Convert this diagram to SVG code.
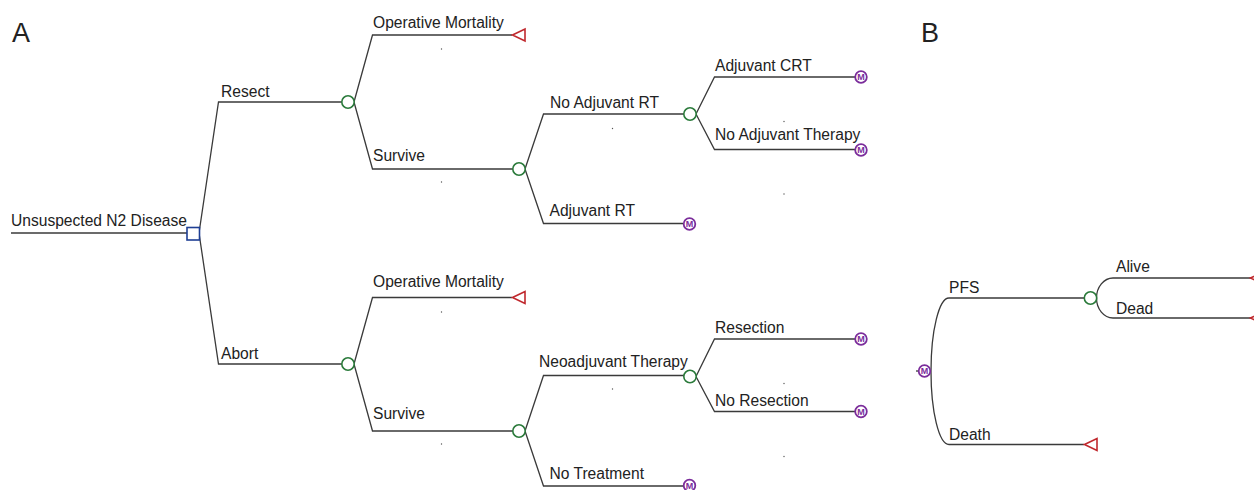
<svg xmlns="http://www.w3.org/2000/svg" width="1254" height="490" viewBox="0 0 1254 490">
<defs>
<style>
.t{font-family:"Liberation Sans",Arial,Helvetica,sans-serif;font-size:15.6px;fill:#222}
.big{font-family:"Liberation Sans",Arial,Helvetica,sans-serif;font-size:27px;fill:#222}
.ln{fill:none;stroke:#3a3a3a;stroke-width:1.3}
.ch{fill:#fff;stroke:#2a7a3a;stroke-width:1.6}
.dc{fill:#fff;stroke:#1e3f94;stroke-width:1.6}
.tm{fill:#fff;stroke:#c0282d;stroke-width:1.6}
.mk{fill:#fff;stroke:#7b2d9b;stroke-width:1.8}
.mt{font-family:"Liberation Sans",Arial,sans-serif;font-size:9px;font-weight:bold;fill:#7b2d9b;text-anchor:middle}
.dot{fill:#555}
</style>
<g id="markov">
<circle class="mk" cx="0" cy="0" r="5.8"/>
<text class="mt" x="0" y="3.2">M</text>
</g>
<polygon id="term" class="tm" points="0,0 12.5,-6 12.5,6"/>
</defs>

<text class="big" x="12" y="42">A</text>
<text class="big" x="921" y="42">B</text>

<g id="connectors">
<!-- Panel A -->
<path class="ln" d="M11,233 H187"/>
<path class="ln" d="M199,233 L218.5,102 H342"/>
<path class="ln" d="M199,233 L218.5,364 H342"/>
<path class="ln" d="M354,102 L372.5,35 H512"/>
<path class="ln" d="M354,102 L372.5,169 H513"/>
<path class="ln" d="M525,169 L543.5,114 H684"/>
<path class="ln" d="M525,169 L543.5,223.5 H683"/>
<path class="ln" d="M696,114 L714.5,77 H855"/>
<path class="ln" d="M696,114 L714.5,149.5 H855"/>
<path class="ln" d="M354,364 L372.5,297.5 H512"/>
<path class="ln" d="M354,364 L372.5,431 H513"/>
<path class="ln" d="M525,431 L543.5,375.5 H684"/>
<path class="ln" d="M525,431 L543.5,486 H683"/>
<path class="ln" d="M696,376.5 L714.5,339 H855"/>
<path class="ln" d="M696,376.5 L714.5,411.5 H855"/>
<!-- Panel B -->
<path class="ln" d="M916,371 H919"/>
<path class="ln" d="M931,371 A18,73 0 0 1 949,298 H1084"/>
<path class="ln" d="M931,371 A18,73 0 0 0 949,444.5 H1084"/>
<path class="ln" d="M1096.5,298 A16.5,20 0 0 1 1113,278 H1251"/>
<path class="ln" d="M1096.5,298 A16.5,20 0 0 0 1113,318 H1251"/>
</g>

<g id="dots">
<circle class="dot" cx="441.5" cy="49" r="0.7"/>
<circle class="dot" cx="441.5" cy="182" r="0.7"/>
<circle class="dot" cx="612.5" cy="128.5" r="0.7"/>
<circle class="dot" cx="784" cy="121.5" r="0.7"/>
<circle class="dot" cx="784" cy="194" r="0.7"/>
<circle class="dot" cx="441.5" cy="312" r="0.7"/>
<circle class="dot" cx="441.5" cy="444" r="0.7"/>
<circle class="dot" cx="612.5" cy="389" r="0.7"/>
<circle class="dot" cx="784" cy="383.5" r="0.7"/>
<circle class="dot" cx="784" cy="456.5" r="0.7"/>
</g>

<g id="n_root"><text class="t" x="11" y="225.5">Unsuspected N2 Disease</text>
<rect class="dc" x="187" y="227.5" width="12.5" height="12.5"/></g>

<g id="n_resect"><text class="t" x="221" y="97">Resect</text>
<circle class="ch" cx="348" cy="102" r="6.2"/></g>

<g id="n_opmort1"><text class="t" x="373" y="27.5">Operative Mortality</text>
<use href="#term" x="512.5" y="35"/></g>

<g id="n_survive1"><text class="t" x="373" y="161">Survive</text>
<circle class="ch" cx="519" cy="169" r="6.2"/></g>

<g id="n_noadjrt"><text class="t" x="550" y="107.5">No Adjuvant RT</text>
<circle class="ch" cx="690" cy="114" r="6.2"/></g>

<g id="n_adjcrt"><text class="t" x="715" y="71">Adjuvant CRT</text>
<use href="#markov" x="861" y="77"/></g>

<g id="n_noadjther"><text class="t" x="715" y="139.5">No Adjuvant Therapy</text>
<use href="#markov" x="861" y="150"/></g>

<g id="n_adjrt"><text class="t" x="549.5" y="216">Adjuvant RT</text>
<use href="#markov" x="689.5" y="224"/></g>

<g id="n_abort"><text class="t" x="221" y="358.5">Abort</text>
<circle class="ch" cx="348" cy="364" r="6.2"/></g>

<g id="n_opmort2"><text class="t" x="373" y="287">Operative Mortality</text>
<use href="#term" x="512.5" y="297.5"/></g>

<g id="n_survive2"><text class="t" x="373" y="418.5">Survive</text>
<circle class="ch" cx="519" cy="431" r="6.2"/></g>

<g id="n_neoadj"><text class="t" x="539" y="367">Neoadjuvant Therapy</text>
<circle class="ch" cx="690" cy="376.5" r="6.2"/></g>

<g id="n_resection"><text class="t" x="715" y="333">Resection</text>
<use href="#markov" x="861" y="339"/></g>

<g id="n_noresection"><text class="t" x="715" y="406">No Resection</text>
<use href="#markov" x="861" y="411.5"/></g>

<g id="n_notreat"><text class="t" x="549.5" y="479">No Treatment</text>
<use href="#markov" x="689.5" y="485.5"/></g>

<g id="n_bmarkov"><use href="#markov" x="924.5" y="371"/></g>

<g id="n_pfs"><text class="t" x="949" y="292.5">PFS</text>
<circle class="ch" cx="1090.5" cy="298" r="6.2"/></g>

<g id="n_death"><text class="t" x="949" y="439.5">Death</text>
<use href="#term" x="1084.5" y="444.5"/></g>

<g id="n_alive"><text class="t" x="1116" y="272">Alive</text>
<use href="#term" x="1250.5" y="278"/></g>

<g id="n_dead"><text class="t" x="1116" y="313.5">Dead</text>
<use href="#term" x="1250.5" y="318"/></g>
</svg>
